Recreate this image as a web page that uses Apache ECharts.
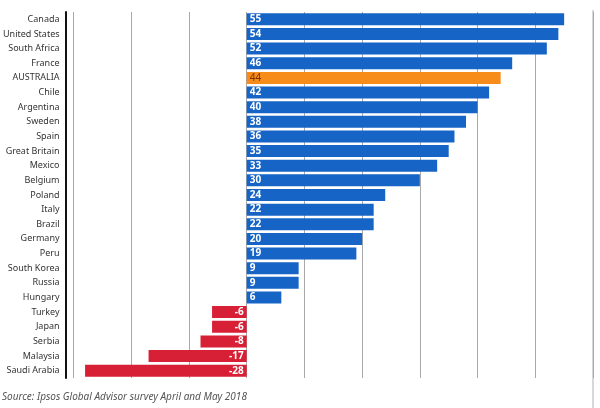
<!DOCTYPE html>
<html><head><meta charset="utf-8">
<script src="https://cdn.jsdelivr.net/npm/echarts@6/dist/echarts.min.js"></script>
<style>html,body{margin:0;padding:0;background:#fff}#c{width:600px;height:408px}</style>
</head><body><div id="c"></div>
<script>
const categories = ["Canada","United States","South Africa","France","AUSTRALIA","Chile","Argentina","Sweden","Spain","Great Britain","Mexico","Belgium","Poland","Italy","Brazil","Germany","Peru","South Korea","Russia","Hungary","Turkey","Japan","Serbia","Malaysia","Saudi Arabia"];
const values = [55,54,52,46,44,42,40,38,36,35,33,30,24,22,22,20,19,9,9,6,-6,-6,-8,-17,-28];
const highlight = "AUSTRALIA";
const sourceText = "Source: Ipsos Global Advisor survey April and May 2018";

const BLUE = "#1664c6", ORANGE = "#f78c1a", RED = "#d71f35";
const data = values.map((v, i) => {
  const isHi = categories[i] === highlight;
  const color = isHi ? ORANGE : (v < 0 ? RED : BLUE);
  return {
    value: v,
    itemStyle: { color: color },
    label: {
      position: v < 0 ? "insideRight" : "insideLeft",
      color: isHi ? "#7a3500" : "#ffffff",
      fontWeight: isHi ? "normal" : "bold"
    }
  };
});

const chart = echarts.init(document.getElementById("c"), null, { renderer: "canvas" });
chart.setOption({
  animation: false,
  backgroundColor: "#fff",
  grid: { left: 71, right: 7, top: 12, bottom: 30, containLabel: false },
  xAxis: {
    type: "value", min: -30, max: 60, interval: 10,
    axisLine: { show: false }, axisTick: { show: false },
    axisLabel: { show: false },
    splitLine: { show: true, lineStyle: { color: "#a8a8a8", width: 1 } }
  },
  yAxis: {
    type: "category", data: categories, inverse: true, offset: 8,
    axisLine: { show: true, onZero: false, lineStyle: { color: "#111", width: 2 } },
    axisTick: { show: false },
    axisLabel: { color: "#333", fontSize: 9, fontFamily: "Noto Sans", margin: 6 },
    splitLine: { show: false }
  },
  series: [{
    type: "bar", data: data, barWidth: 12,
    label: { show: true, fontSize: 10, fontFamily: "Noto Sans", distance: 3 }
  }],
  graphic: [
    { type: "text", left: 2, top: 392,
      style: { text: sourceText, fill: "#555", font: "italic 10px 'Noto Sans'" } },
    { type: "line", shape: { x1: 593, y1: 10, x2: 593, y2: 408 },
      style: { stroke: "#b0b0b0", lineWidth: 1 } }
  ]
});
</script></body></html>
